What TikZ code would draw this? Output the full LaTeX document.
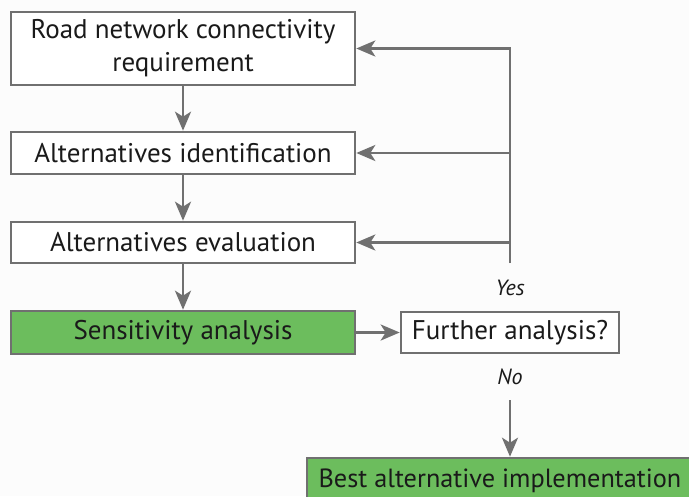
\documentclass[tikz,border=0pt]{standalone}
\usepackage{fontspec}
\setmainfont{PT Sans}
\usetikzlibrary{arrows.meta}
\definecolor{frame}{HTML}{707070}
\definecolor{stage}{HTML}{6CBD5D}
\definecolor{ink}{HTML}{1A1A1A}
\definecolor{paper}{HTML}{FCFCFC}

\begin{document}
\begin{tikzpicture}[x=1pt, y=-1pt,
  box/.style={draw=frame, line width=2.6pt, fill=white, text=ink,
    font=\fontsize{27}{33}\selectfont, align=center, inner sep=0pt},
  flow/.style={draw=frame, line width=2.6pt,
    -{Stealth[length=19pt, width=16pt, inset=5pt]}},
  tag/.style={text=ink, font=\fontsize{22}{24}\selectfont\itshape}]
  % Canvas
  \useasboundingbox (0, 0) rectangle (689, 496);
  \clip (0, 0) rectangle (689, 496);
  \fill[paper] (0, 0) rectangle (689, 496);

  % Main column
  \node[box, minimum width=344pt, minimum height=73pt] (req) at (183, 48.5)
    {Road network connectivity\\requirement};
  \node[box, minimum width=344pt, minimum height=42pt] (ident) at (183, 153)
    {Alternatives identification};
  \node[box, minimum width=344pt, minimum height=41pt] (eval) at (183, 242.5)
    {Alternatives evaluation};
  \node[box, fill=stage, minimum width=344pt, minimum height=43pt] (sens) at (183, 332.5)
    {Sensitivity analysis};

  % Decision and result
  \node[box, minimum width=218pt, minimum height=41pt] (further) at (510, 332.5)
    {Further analysis?};
  \node[box, fill=stage, font=\fontsize{26.3}{30}\selectfont,
    minimum width=386pt, minimum height=46pt] (best) at (500, 481)
    {Best alternative implementation};

  % Branch labels
  \node[tag] (yes) at (510, 288) {Yes};
  \node[tag] (no) at (510, 377) {No};

  % Arrows down the column
  \draw[flow] (req) -- (ident);
  \draw[flow] (ident) -- (eval);
  \draw[flow] (eval) -- (sens);
  \draw[flow] (sens) -- (further);

  % Feedback loop
  \coordinate (loop) at (510, 263);
  \draw[flow] (loop) |- (req.east);
  \draw[flow] (loop |- ident.east) -- (ident.east);
  \draw[flow] (loop |- eval.east) -- (eval.east);

  % Result
  \coordinate (nodown) at (510, 400);
  \draw[flow] (nodown) -- (nodown |- best.north);
\end{tikzpicture}
\end{document}
